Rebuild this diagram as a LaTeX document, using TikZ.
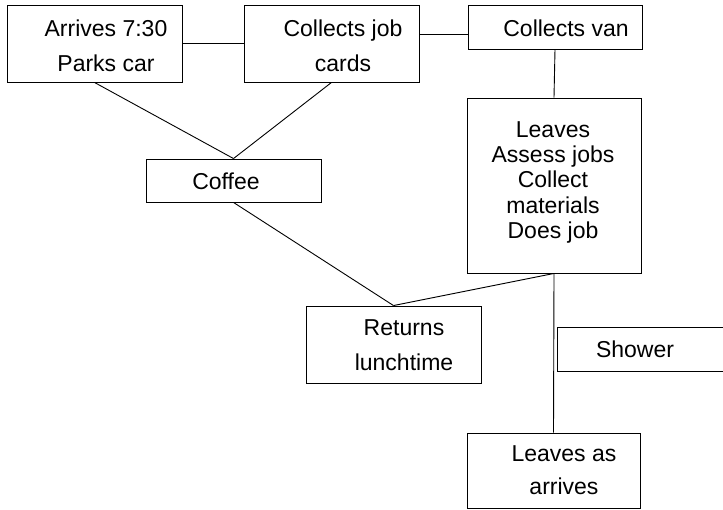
\documentclass[tikz,border=0pt]{standalone}
\usepackage{fontspec}
\setmainfont{Liberation Sans}
\begin{document}
\begin{tikzpicture}[x=1pt,y=-1pt,
  box/.style={draw, line width=0.9pt, inner sep=0pt, rectangle},
  txt/.style={anchor=north, inner sep=0pt, align=center, font=\fontsize{23pt}{#1}\selectfont},
  txt/.default=35pt,
  link/.style={line width=0.9pt}]
\useasboundingbox (0,0) rectangle (723,509);
\begin{scope}
\clip (0,0) rectangle (723,509);
% boxes
\node[box, minimum width=175pt, minimum height=77pt] (b1) at (94.5,43.5) {};
\node[box, minimum width=175pt, minimum height=77pt] (b2) at (331.5,43.5) {};
\node[box, minimum width=174pt, minimum height=44pt] (b3) at (555,27) {};
\node[box, minimum width=174pt, minimum height=175pt] (lv) at (554,185.5) {};
\node[box, minimum width=175pt, minimum height=43pt] (cf) at (233.5,180.5) {};
\node[box, minimum width=175pt, minimum height=77pt] (rt) at (393.5,344.5) {};
\node[box, minimum width=173pt, minimum height=44pt] (sh) at (643.5,349) {};
\node[box, minimum width=173pt, minimum height=75pt] (la) at (553.5,470.5) {};
\end{scope}
% texts
\node[txt] (t1) at (106,19.5) {Arrives 7:30\\Parks car};
\node[txt] (t2) at (343,19.5) {Collects job\\cards};
\node[txt] (t3) at (566,19.5) {Collects van};
\node[txt=25.4pt] (t4) at (553,121) {Leaves\\Assess jobs\\Collect\\materials\\Does job};
\node[txt] (t5) at (226,172.5) {Coffee};
\node[txt] (t6) at (404,319.5) {Returns\\lunchtime};
\node[txt] (t7) at (635,340.5) {Shower};
\node[txt=33pt] (t8) at (564,445.5) {Leaves as\\arrives};
% connectors
\draw[link] (b1.east) -- (b2.west);
\draw[link] ([yshift=9.5pt]b2.east) coordinate (p) -- (b3.west |- p);
\draw[link] (b1.south) -- (cf.north);
\draw[link] (b2.south) -- (cf.north);
\draw[link] (b3.south) -- (lv.north);
\draw[link] (cf.south) -- (rt.north);
\draw[link] (lv.south) -- (rt.north);
\draw[link] (lv.south) -- (la.north);
\end{tikzpicture}
\end{document}
